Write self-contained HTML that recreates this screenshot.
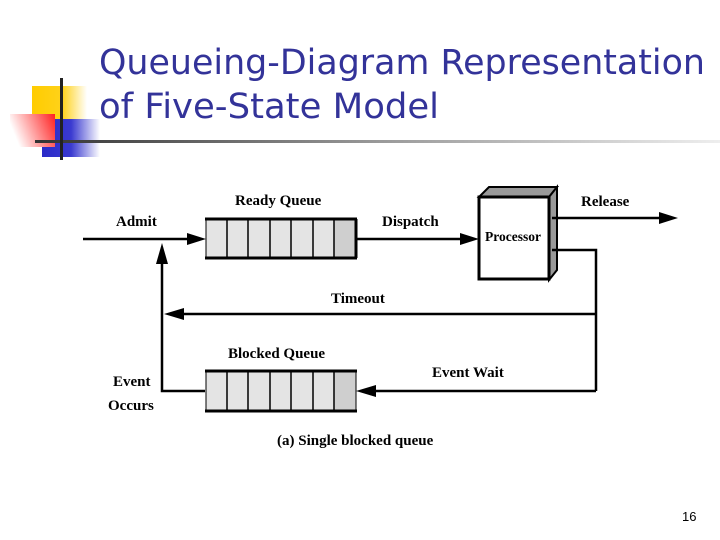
<!DOCTYPE html>
<html><head><meta charset="utf-8"><style>
html,body{margin:0;padding:0;background:#fff;width:720px;height:540px;overflow:hidden}
</style></head><body>
<svg width="720" height="540" viewBox="0 0 720 540" xmlns="http://www.w3.org/2000/svg">
<defs>
<linearGradient id="gy" x1="0" x2="1" y1="0" y2="0"><stop offset="0" stop-color="#ffcc00"/><stop offset="0.55" stop-color="#ffd21a"/><stop offset="1" stop-color="#ffffff"/></linearGradient>
<linearGradient id="gr" x1="1" x2="0" y1="0" y2="0.3"><stop offset="0" stop-color="#ff2020"/><stop offset="1" stop-color="#ffffff"/></linearGradient>
<linearGradient id="gb" x1="0" x2="1" y1="0" y2="0"><stop offset="0" stop-color="#2a2ac8"/><stop offset="0.5" stop-color="#3a3ad0"/><stop offset="1" stop-color="#ffffff"/></linearGradient>
<linearGradient id="gl" x1="0" x2="1" y1="0" y2="0"><stop offset="0" stop-color="#333"/><stop offset="0.5" stop-color="#999"/><stop offset="1" stop-color="#eee"/></linearGradient>
</defs>
<!-- logo -->
<rect x="32" y="86" width="55" height="49" fill="url(#gy)"/>
<rect x="42" y="119" width="58" height="38" fill="url(#gb)"/>
<rect x="10" y="114" width="45" height="33" fill="url(#gr)"/>
<rect x="35" y="140" width="685" height="3" fill="url(#gl)"/>
<rect x="60" y="78" width="3" height="82" fill="#222"/>
<g font-family="Tahoma,'DejaVu Sans','Liberation Sans',sans-serif" font-size="35" fill="#333399">
<text x="99" y="74" textLength="606" lengthAdjust="spacingAndGlyphs">Queueing-Diagram Representation</text>
<text x="99" y="118" textLength="340" lengthAdjust="spacingAndGlyphs">of Five-State Model</text>
</g>
<!-- queues -->
<g stroke="#000">
<rect x="206" y="219" width="150" height="39" fill="#e4e4e4" stroke-width="1"/>
<rect x="334" y="219" width="22" height="39" fill="#cfcfcf" stroke-width="1"/>
<path d="M227,219V258M248,219V258M270,219V258M291,219V258M313,219V258M334,219V258" stroke-width="1.5"/>
<path d="M205,219H357M205,258H357M356,219V258" stroke-width="3"/>
<rect x="206" y="371" width="150" height="40" fill="#e4e4e4" stroke-width="1"/>
<rect x="334" y="371" width="22" height="40" fill="#cfcfcf" stroke-width="1"/>
<path d="M227,371V411M248,371V411M270,371V411M291,371V411M313,371V411M334,371V411" stroke-width="1.5"/>
<path d="M205,371H357M205,411H357" stroke-width="3"/>
</g>
<!-- processor -->
<path d="M479,197 L489,187 L557,187 L549,197 z" fill="#999" stroke="#000" stroke-width="2"/>
<path d="M549,197 L557,187 L557,270 L549,280 z" fill="#999" stroke="#000" stroke-width="2"/>
<rect x="479" y="197" width="70" height="82" fill="#fff" stroke="#000" stroke-width="3"/>
<!-- lines -->
<g stroke="#000" stroke-width="2.5" fill="none">
<line x1="83" y1="239" x2="190" y2="239"/>
<line x1="356" y1="239" x2="464" y2="239"/>
<line x1="552" y1="218" x2="662" y2="218"/>
<polyline points="552,250 596,250 596,391"/>
<line x1="596" y1="314" x2="180" y2="314"/>
<line x1="596" y1="391" x2="372" y2="391"/>
<polyline points="205,391 162,391 162,262"/>
</g>
<g fill="#000">
<polygon points="206,239 187,233 187,245"/>
<polygon points="479,239 460,233 460,245"/>
<polygon points="678,218 659,212 659,224"/>
<polygon points="164,314 184,308 184,320"/>
<polygon points="356,391 376,385 376,397"/>
<polygon points="162,243 156,264 168,264"/>
</g>
<g font-family="'Liberation Serif',serif" font-weight="bold" font-size="15" fill="#000">
<text x="235" y="205">Ready Queue</text>
<text x="116" y="226">Admit</text>
<text x="382" y="226">Dispatch</text>
<text x="581" y="206">Release</text>
<text x="485" y="241" font-size="13.5">Processor</text>
<text x="331" y="303">Timeout</text>
<text x="228" y="358">Blocked Queue</text>
<text x="432" y="377">Event Wait</text>
<text x="113" y="386">Event</text>
<text x="108" y="410">Occurs</text>
<text x="277" y="445">(a) Single blocked queue</text>
</g>
<text x="682" y="521" font-family="'Liberation Sans',sans-serif" font-size="13" fill="#000">16</text>
</svg>
</body></html>
